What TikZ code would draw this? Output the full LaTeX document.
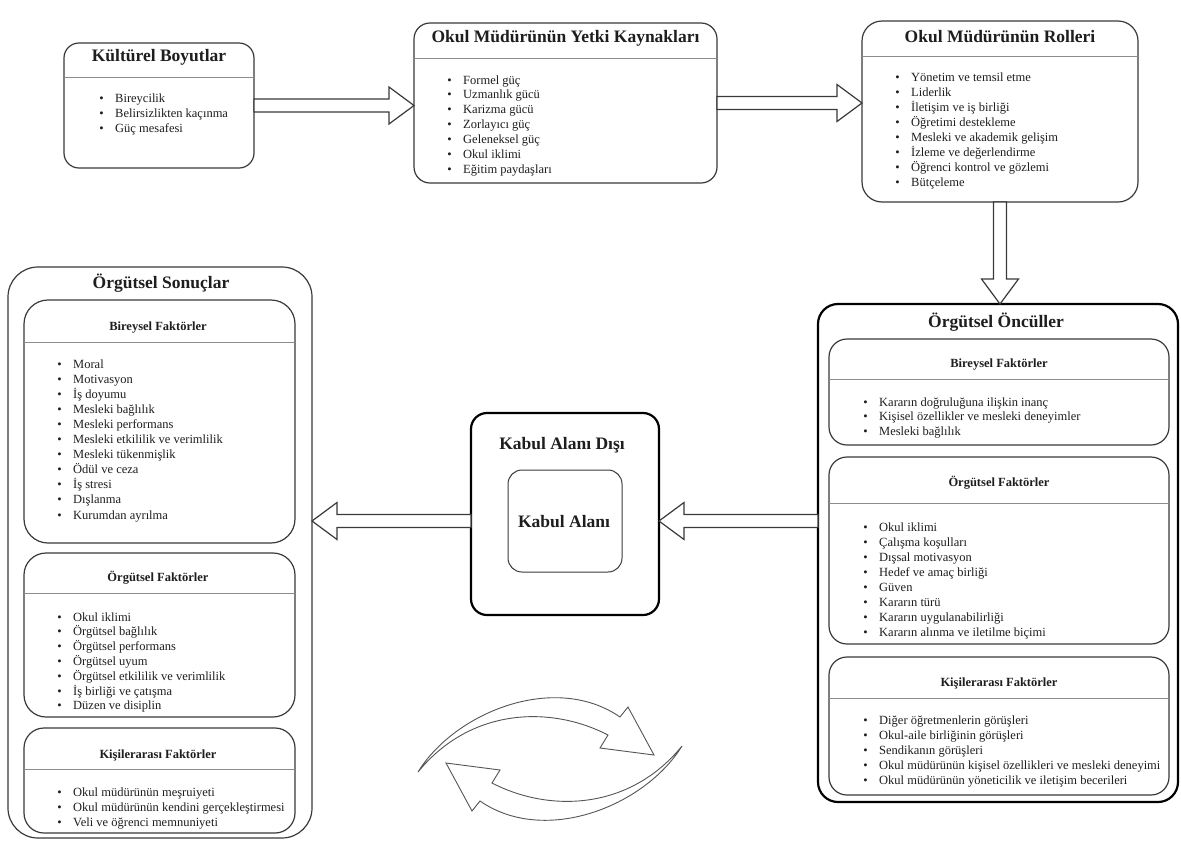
\documentclass[tikz,border=0pt]{standalone}
\usepackage{fontspec}
\setmainfont{Liberation Serif}
\usetikzlibrary{calc}
\definecolor{boxcol}{HTML}{3A3A3A}
\definecolor{divcol}{HTML}{8C8C8C}
\definecolor{txt}{HTML}{1E1E1E}
\definecolor{curvcol}{HTML}{555555}
\newcommand\harrow[3]{%
 \draw[blockarr] let \p1=(#1), \p2=(#2) in
 (\x1,{\y1+6.5pt}) -- ({\x2-(#3)*1pt},{\y1+6.5pt}) -- ({\x2-(#3)*1pt},{\y1+18.5pt}) -- (\x2,\y1)
 -- ({\x2-(#3)*1pt},{\y1-18.5pt}) -- ({\x2-(#3)*1pt},{\y1-6.5pt}) -- (\x1,{\y1-6.5pt}) -- cycle;}
\newcommand\varrow[3]{%
 \draw[blockarr] let \p1=(#1), \p2=(#2) in
 ({\x1+6.5pt},\y1) -- ({\x1+6.5pt},{\y2+(#3)*1pt}) -- ({\x1+18.5pt},{\y2+(#3)*1pt}) -- (\x1,\y2)
 -- ({\x1-18.5pt},{\y2+(#3)*1pt}) -- ({\x1-6.5pt},{\y2+(#3)*1pt}) -- ({\x1-6.5pt},\y1) -- cycle;}
\newcommand\itemlist[5]{%
 \foreach \t [count=\i from 0] in {#5} {\node[item] (#1\i) at (#2,{#3+\i*#4}) {\t};}}
\begin{document}
\begin{tikzpicture}[x=1pt,y=-1pt,
 box/.style={draw=boxcol, line width=1.2pt, rounded corners=#1, inner sep=0pt, outer sep=0pt},
 box/.default=15pt,
 thickbox/.style={draw=black, line width=2.2pt, rounded corners=#1, inner sep=0pt, outer sep=0pt},
 thickbox/.default=18pt,
 divider/.style={draw=divcol, line width=1pt},
 title/.style={font=\fontsize{17.5}{21}\selectfont\bfseries, text=txt, inner sep=0pt},
 subtitle/.style={font=\fontsize{12.5}{15}\selectfont\bfseries, text=txt, inner sep=0pt},
 item/.style={font=\fontsize{12.5}{15}\selectfont, text=txt, inner sep=0pt, anchor=base west,
   execute at begin node={\llap{\textbullet\hspace{11.5pt}}}},
 blockarr/.style={draw=boxcol, line width=1.2pt, fill=white, line join=miter},
 curved/.style={draw=curvcol, line width=0.9pt, fill=white, line join=miter}]
\fill[white] (0,0) rectangle (1181,844);
\useasboundingbox (0,0) rectangle (1181,844);

% --- top row ---
\node[box=15pt, minimum width=190pt, minimum height=125pt] (b1) at (159,105.5) {};
\draw[divider] (b1.west |- 0,77) -- (b1.east |- 0,77);
\node[title] (b1t) at (159,57) {Kültürel Boyutlar};
\itemlist{b1i}{115}{102}{15.3}{Bireycilik,Belirsizlikten kaçınma,Güç mesafesi}

\node[box=16pt, minimum width=303pt, minimum height=160pt] (b2) at (565.5,103) {};
\draw[divider] (b2.west |- 0,58) -- (b2.east |- 0,58);
\node[title] (b2t) at (565.5,38) {Okul Müdürünün Yetki Kaynakları};
\itemlist{b2i}{463}{84}{14.9}{Formel güç,Uzmanlık gücü,Karizma gücü,Zorlayıcı güç,Geleneksel güç,Okul iklimi,Eğitim paydaşları}

\node[box=20pt, minimum width=276pt, minimum height=181pt] (b3) at (1000,111.5) {};
\draw[divider] (b3.west |- 0,56) -- (b3.east |- 0,56);
\node[title] (b3t) at (1000,37) {Okul Müdürünün Rolleri};
\itemlist{b3i}{911}{81}{15}{Yönetim ve temsil etme,Liderlik,İletişim ve iş birliği,Öğretimi destekleme,Mesleki ve akademik gelişim,İzleme ve değerlendirme,Öğrenci kontrol ve gözlemi,Bütçeleme}

% --- right big box ---
\node[thickbox=20pt, minimum width=360pt, minimum height=498pt] (rbig) at (998,553) {};
\node[title] (rbigt) at (996,322) {Örgütsel Öncüller};

\node[box=18pt, minimum width=340pt, minimum height=106pt] (rb) at (999,392) {};
\draw[divider] (rb.west |- 0,379) -- (rb.east |- 0,379);
\node[subtitle] (rbt) at (999,365) {Bireysel Faktörler};
\itemlist{rbi}{879}{406}{14.8}{Kararın doğruluğuna ilişkin inanç,Kişisel özellikler ve mesleki deneyimler,Mesleki bağlılık}

\node[box=18pt, minimum width=340pt, minimum height=187pt] (ro) at (999,550.5) {};
\draw[divider] (ro.west |- 0,503) -- (ro.east |- 0,503);
\node[subtitle] (rot) at (999,483) {Örgütsel Faktörler};
\itemlist{roi}{879}{531}{15.1}{Okul iklimi,Çalışma koşulları,Dışsal motivasyon,Hedef ve amaç birliği,Güven,Kararın türü,Kararın uygulanabilirliği,Kararın alınma ve iletilme biçimi}

\node[box=18pt, minimum width=340pt, minimum height=138pt] (rk) at (999,726) {};
\draw[divider] (rk.west |- 0,698) -- (rk.east |- 0,698);
\node[subtitle] (rkt) at (999,683) {Kişilerarası Faktörler};
\itemlist{rki}{879}{724}{15}{Diğer öğretmenlerin görüşleri,Okul-aile birliğinin görüşleri,Sendikanın görüşleri,Okul müdürünün kişisel özellikleri ve mesleki deneyimi,Okul müdürünün yöneticilik ve iletişim becerileri}

% --- left big box ---
\node[box=30pt, minimum width=304pt, minimum height=571pt] (lbig) at (160,552.5) {};
\node[title] (lbigt) at (161,283) {Örgütsel Sonuçlar};

\node[box=24pt, minimum width=271pt, minimum height=243pt] (lb) at (159.5,421.5) {};
\draw[divider] (lb.west |- 0,342) -- (lb.east |- 0,342);
\node[subtitle] (lbt) at (158,328) {Bireysel Faktörler};
\itemlist{lbi}{73}{368}{15.1}{Moral,Motivasyon,İş doyumu,Mesleki bağlılık,Mesleki performans,Mesleki etkililik ve verimlilik,Mesleki tükenmişlik,Ödül ve ceza,İş stresi,Dışlanma,Kurumdan ayrılma}

\node[box=22pt, minimum width=271pt, minimum height=164pt] (lo) at (159.5,635) {};
\draw[divider] (lo.west |- 0,593) -- (lo.east |- 0,593);
\node[subtitle] (lot) at (158,578) {Örgütsel Faktörler};
\itemlist{loi}{73}{621}{14.8}{Okul iklimi,Örgütsel bağlılık,Örgütsel performans,Örgütsel uyum,Örgütsel etkililik ve verimlilik,İş birliği ve çatışma,Düzen ve disiplin}

\node[box=20pt, minimum width=271pt, minimum height=105pt] (lk) at (159.5,780.5) {};
\draw[divider] (lk.west |- 0,769) -- (lk.east |- 0,769);
\node[subtitle] (lkt) at (158,755) {Kişilerarası Faktörler};
\itemlist{lki}{73}{796}{15.3}{Okul müdürünün meşruiyeti,Okul müdürünün kendini gerçekleştirmesi,Veli ve öğrenci memnuniyeti}

% --- middle box ---
\node[thickbox=16pt, minimum width=188pt, minimum height=202pt] (mid) at (565,514) {};
\node[title] (midt) at (562,445) {Kabul Alanı Dışı};
\node[box=14pt, line width=1pt, minimum width=114pt, minimum height=102pt] (inner) at (565,521) {};
\node[title] (innert) at (564,522) {Kabul Alanı};

% --- block arrows ---
\coordinate (arow) at (0,521);
\harrow{b1.east}{b2.west |- b1.east}{25}
\harrow{b2.east}{b3.west |- b2.east}{25}
\varrow{b3.south}{b3.south |- rbig.north}{25}
\harrow{rbig.west |- arow}{mid.east |- arow}{-25}
\harrow{mid.west |- arow}{lbig.east |- arow}{-25}

% --- cycle arrows ---
\coordinate (cyc) at (550,759);
\path[curved] (418,772) .. controls (455,712) and (555,672) .. (620,717)
  -- (628,707) -- (654,755) -- (600,748) -- (608,735)
  .. controls (550,705) and (470,708) .. (418,772) -- cycle;
\path[curved, rotate around={180:(cyc)}] (418,772) .. controls (455,712) and (555,672) .. (620,717)
  -- (628,707) -- (654,755) -- (600,748) -- (608,735)
  .. controls (550,705) and (470,708) .. (418,772) -- cycle;
\end{tikzpicture}
\end{document}
